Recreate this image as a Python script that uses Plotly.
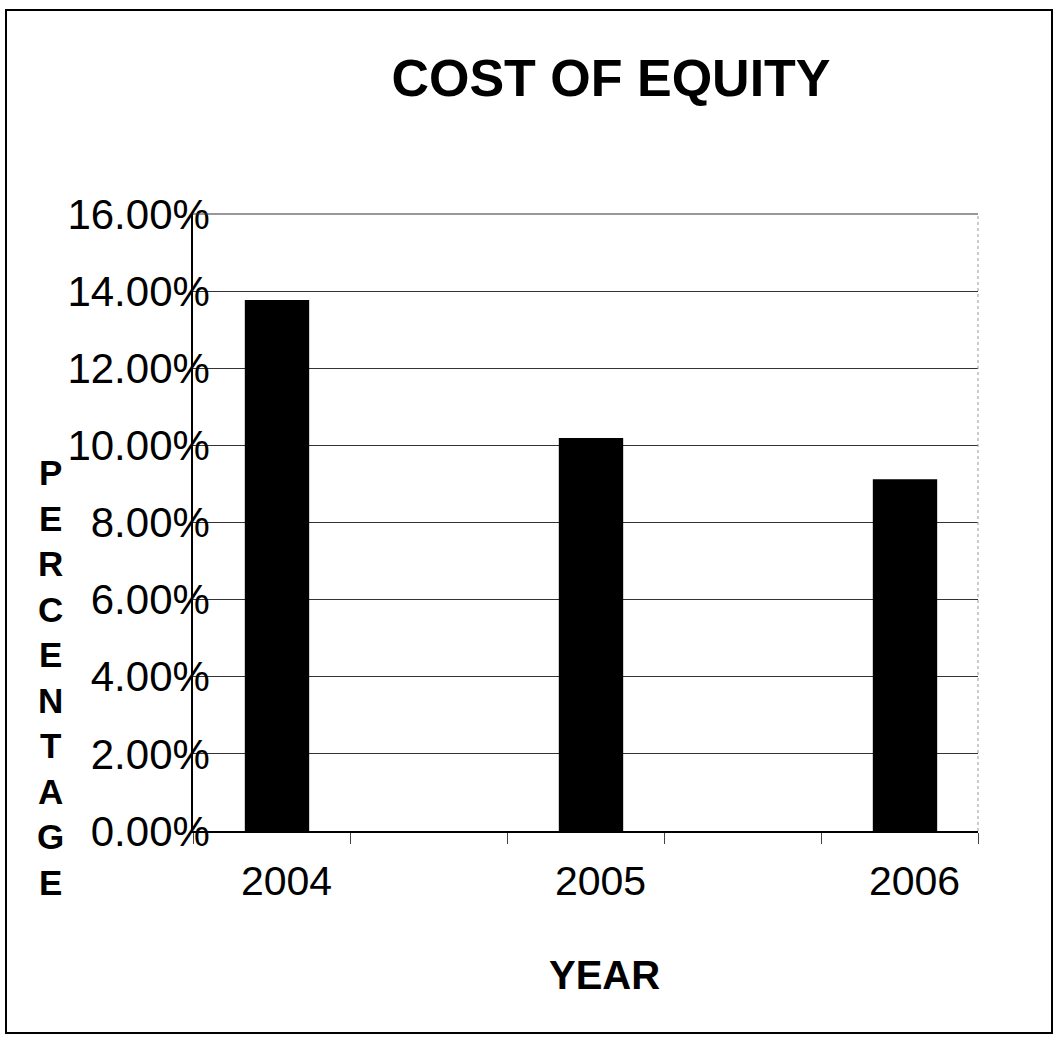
import plotly.graph_objects as go

# Cost of equity by year
years = ["2004", "2005", "2006"]
cost_of_equity = [13.77, 10.19, 9.12]  # percent

# Category axis with blank spacer slots between the labelled years
category_order = ["2004", " ", "2005", "  ", "2006"]

y_ticks = [0, 2, 4, 6, 8, 10, 12, 14, 16]
y_tick_text = [f"{v:.2f}%" for v in y_ticks]

FONT = "Liberation Sans, Arial, sans-serif"

BAR_WIDTH = 0.41

fig = go.Figure()
fig.add_trace(go.Bar(
    x=years,
    y=cost_of_equity,
    width=BAR_WIDTH,
    offset=-BAR_WIDTH / 2 + 0.035,
    marker=dict(color="black", line=dict(width=0)),
    hoverinfo="x+y",
))

# Plot-area geometry in pixels
W, H = 1056, 1041
L, R, T, B = 193, 978, 214, 831
pw, ph = R - L, B - T


def px_x(x):
    return (x - L) / pw


def px_y(y):
    return (B - y) / ph


fig.update_layout(
    width=W,
    height=H,
    margin=dict(l=L, r=W - R, t=T, b=H - B, pad=0),
    paper_bgcolor="white",
    plot_bgcolor="white",
    showlegend=False,
    font=dict(family=FONT, color="black"),
    title=dict(
        text="<b>COST OF EQUITY</b>",
        font=dict(family=FONT, size=52, color="black"),
        xref="paper", x=px_x(611), xanchor="center",
        yref="container", y=1 - 78 / H, yanchor="middle",
    ),
)

fig.update_xaxes(
    type="category",
    categoryorder="array",
    categoryarray=category_order,
    range=[-0.5, 4.5],
    tickson="boundaries",
    ticks="outside",
    ticklen=11,
    tickwidth=1,
    tickcolor="#444",
    showgrid=False,
    showline=True,
    linecolor="black",
    linewidth=1.5,
    tickfont=dict(family=FONT, size=41, color="black"),
    ticklabelstandoff=13,
    ticklabelshift=15,
    zeroline=False,
)

fig.update_yaxes(
    range=[0, 16],
    tickvals=y_ticks,
    ticktext=y_tick_text,
    ticks="",
    showgrid=True,
    gridcolor="#333",
    gridwidth=1,
    showline=True,
    linecolor="black",
    linewidth=1.5,
    zeroline=False,
    tickfont=dict(family=FONT, size=42, color="black"),
    ticklabelstandoff=-27,
)

# Top gridline at the upper end of the value range
fig.add_shape(type="line", xref="paper", yref="paper", x0=0, x1=1, y0=1, y1=1,
              line=dict(color="#333", width=1))

# Light right edge of the plot area
fig.add_shape(type="line", xref="paper", yref="paper", x0=1, x1=1, y0=0, y1=1,
              line=dict(color="#999", width=1, dash="dot"))

# Outer chart border
fig.add_shape(type="rect", xref="paper", yref="paper",
              x0=px_x(6), x1=px_x(1052), y0=px_y(1033), y1=px_y(10),
              line=dict(color="black", width=2), fillcolor="rgba(0,0,0,0)",
              layer="below")

# Vertical stacked axis title
fig.add_annotation(
    text="<br>".join("<b>%s</b>" % ch for ch in "PERCENTAGE"),
    xref="paper", yref="paper", x=px_x(50), y=px_y(677),
    xanchor="center", yanchor="middle", showarrow=False,
    font=dict(family=FONT, size=35, color="black"),
    align="center",
)

# Horizontal axis title
fig.add_annotation(
    text="<b>YEAR</b>",
    xref="paper", yref="paper", x=px_x(604), y=px_y(975),
    xanchor="center", yanchor="middle", showarrow=False,
    font=dict(family=FONT, size=40, color="black"),
)

fig.write_html("out.html")
